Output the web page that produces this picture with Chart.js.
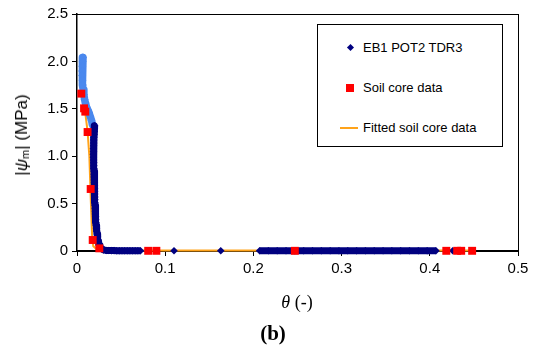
<!DOCTYPE html>
<html>
<head>
<meta charset="utf-8">
<script src="https://cdn.jsdelivr.net/npm/chart.js@4.4.0/dist/chart.umd.min.js"></script>
<style>
  body { margin: 0; background: #fff; }
  #wrap { position: relative; width: 533px; height: 353px; font-family: Arial, "Liberation Sans", sans-serif; }
  #c { position: absolute; left: 0; top: 0; }
  .legend { position: absolute; left: 317px; top: 24px; width: 184px; height: 121px; border: 1px solid #000; background: #fff; }
  .item { position: absolute; left: 0; height: 16px; font-size: 13px; line-height: 16px; color: #000; white-space: nowrap; }
  .item span.txt { position: absolute; left: 45px; top: 0; }
  .dia { position: absolute; left: 30px; top: 5px; width: 5px; height: 5px; background: #000080; transform: rotate(45deg); }
  .sq { position: absolute; left: 28px; top: 4px; width: 8px; height: 8px; background: #ff0000; }
  .ln { position: absolute; left: 22px; top: 7px; width: 18px; height: 2px; background: #ffa31a; }
  #ytitle { position: absolute; left: 22px; top: 135px; transform: translate(-50%, -50%) rotate(-90deg); font-size: 17px; white-space: nowrap; color: #000; }
  #ytitle sub { font-size: 11px; vertical-align: -2px; }
  #xtitle { position: absolute; left: 297px; top: 302px; transform: translate(-50%, -50%); font-family: "Liberation Serif", "Times New Roman", serif; font-size: 18px; white-space: nowrap; color: #000; }
  #cap { position: absolute; left: 273px; top: 333px; transform: translate(-50%, -50%); font-family: "Liberation Serif", "Times New Roman", serif; font-weight: bold; font-size: 21px; color: #000; }
</style>
</head>
<body>
<div id="wrap">
  <canvas id="c" width="533" height="353"></canvas>
  <div class="legend">
    <div class="item" style="top:15px"><div class="dia"></div><span class="txt">EB1 POT2 TDR3</span></div>
    <div class="item" style="top:55px"><div class="sq"></div><span class="txt">Soil core data</span></div>
    <div class="item" style="top:95px"><div class="ln"></div><span class="txt">Fitted soil core data</span></div>
  </div>
  <div id="ytitle">|<i>ψ</i><sub>m</sub>| (MPa)</div>
  <div id="xtitle"><i>θ</i> (-)</div>
  <div id="cap">(b)</div>
</div>
<script>
// axis ticks
const xTicks = [0, 0.1, 0.2, 0.3, 0.4, 0.5];
const yTicks = [0, 0.5, 1, 1.5, 2, 2.5];

// EB1 POT2 TDR3 - drying curve down to the flat part (theta, |psi_m|)
const ebThetaSteep = [0.0200, 0.0198, 0.0196, 0.0193, 0.0192, 0.0190, 0.0189, 0.0188, 0.0186, 0.0187,
  0.0185, 0.0186, 0.0188, 0.0190, 0.0191, 0.0192, 0.0193, 0.0194, 0.0195, 0.0196,
  0.0197, 0.0198, 0.0199, 0.0200, 0.0201, 0.0202, 0.0203, 0.0204, 0.0205, 0.0206,
  0.0208, 0.0209, 0.0211, 0.0213, 0.0215, 0.0218, 0.0221, 0.0224, 0.0228, 0.0232,
  0.0236, 0.0240, 0.0245, 0.0252, 0.0260, 0.0270, 0.0280, 0.0290, 0.0300,
  0.033, 0.036, 0.039, 0.042, 0.045, 0.048, 0.051, 0.054, 0.057, 0.060, 0.063, 0.066, 0.069, 0.072];
const ebPsiSteep = [1.32, 1.29, 1.26, 1.23, 1.20, 1.17, 1.14, 1.11, 1.08, 1.05,
  1.02, 0.99, 0.96, 0.93, 0.90, 0.87, 0.84, 0.81, 0.78, 0.75,
  0.72, 0.69, 0.66, 0.63, 0.60, 0.57, 0.54, 0.51, 0.48, 0.45,
  0.42, 0.39, 0.36, 0.33, 0.30, 0.27, 0.24, 0.21, 0.18, 0.15,
  0.12, 0.10, 0.08, 0.06, 0.045, 0.035, 0.025, 0.018, 0.012,
  0.006, 0.005, 0.004, 0.004, 0.003, 0.003, 0.003, 0.003, 0.002, 0.002, 0.002, 0.002, 0.002, 0.002];

// EB1 POT2 TDR3 - isolated readings
const ebThetaSingle = [0.110, 0.163];
const ebPsiSingle = [0.002, 0.002];

// EB1 POT2 TDR3 - dense wet readings
const ebThetaBand = [0.207, 0.217, 0.227, 0.237, 0.247, 0.257, 0.267, 0.277, 0.287, 0.297,
  0.307, 0.317, 0.327, 0.337, 0.347, 0.357, 0.367, 0.377, 0.387, 0.397, 0.407];
const ebPsiBand = [0.002, 0.002, 0.002, 0.002, 0.002, 0.002, 0.002, 0.002, 0.002, 0.002,
  0.002, 0.002, 0.002, 0.002, 0.002, 0.002, 0.002, 0.002, 0.002, 0.002, 0.002];

const ebThetaLast = [0.426];
const ebPsiLast = [0.002];

// dry-end readings shown in lighter blue
const dryTheta = [0.0068, 0.0064, 0.0060, 0.0058, 0.0059, 0.0062, 0.0066, 0.0071, 0.0078, 0.0086,
  0.0096, 0.0108, 0.0122, 0.0136, 0.0150, 0.0164, 0.0176];
const dryPsi = [2.04, 2.00, 1.95, 1.90, 1.85, 1.80, 1.75, 1.70, 1.65, 1.60,
  1.56, 1.52, 1.49, 1.46, 1.42, 1.38, 1.33];

// soil core data
const coreTheta = [0.0049, 0.0080, 0.0094, 0.0120, 0.0155, 0.0178, 0.0253,
  0.0807, 0.0900, 0.2470, 0.4187, 0.4310, 0.4356, 0.4480];
const corePsi = [1.66, 1.505, 1.47, 1.255, 0.654, 0.116, 0.028,
  0.002, 0.002, 0.002, 0.002, 0.002, 0.002, 0.002];

// fitted soil core curve
const fitTheta = [0.0050, 0.0080, 0.0095, 0.0120, 0.0140, 0.0158, 0.0173, 0.0185, 0.0220, 0.0300, 0.1000, 0.2500, 0.4520];
const fitPsi = [1.66, 1.51, 1.45, 1.26, 1.00, 0.50, 0.12, 0.05, 0.02, 0.008, 0.005, 0.004, 0.004];

const toXY = (xs, ys) => xs.map((x, i) => ({ x, y: ys[i] }));
const gap = { x: null, y: null };

// the logger readings are so dense that they merge into a band: join each run with a thick stroke
const ebData = [].concat(
  toXY(ebThetaSteep, ebPsiSteep), [gap],
  toXY(ebThetaSingle, ebPsiSingle).flatMap(p => [p, gap]),
  toXY(ebThetaBand, ebPsiBand), [gap],
  toXY(ebThetaLast, ebPsiLast)
);

const axisFont = { family: 'Arial, "Liberation Sans", sans-serif', size: 15 };

// plain box round the plot area via empty top/right axes
const emptyAxis = (position) => ({
  type: 'linear',
  position,
  min: 0,
  max: 1,
  display: true,
  grid: { display: false, drawTicks: false },
  ticks: { display: false },
  border: { display: true, color: '#000', width: 1 },
  afterFit: (scale) => {
    if (position === 'top') scale.height = 0; else scale.width = 0;
  },
});

new Chart(document.getElementById('c').getContext('2d'), {
  type: 'scatter',
  data: {
    datasets: [
      {
        label: 'Soil core data',
        data: toXY(coreTheta, corePsi),
        pointStyle: 'rect',
        pointRadius: 5.6,
        backgroundColor: '#ff0000',
        borderColor: '#ff0000',
        borderWidth: 0,
        clip: false,
      },
      {
        label: 'EB1 POT2 TDR3',
        data: ebData,
        showLine: true,
        spanGaps: false,
        pointStyle: 'rectRot',
        pointRadius: 3.8,
        pointBorderWidth: 0,
        backgroundColor: '#000080',
        borderColor: '#000080',
        borderWidth: 7,
        borderJoinStyle: 'round',
        borderCapStyle: 'butt',
        clip: false,
      },
      {
        label: 'dry',
        data: toXY(dryTheta, dryPsi),
        showLine: true,
        pointStyle: 'rectRot',
        pointRadius: 4,
        pointBorderWidth: 0,
        backgroundColor: '#4a88ee',
        borderColor: '#4a88ee',
        borderWidth: 7.5,
        borderJoinStyle: 'round',
        borderCapStyle: 'round',
        clip: false,
      },
      {
        label: 'Fitted soil core data',
        data: toXY(fitTheta, fitPsi),
        showLine: true,
        pointRadius: 0,
        borderColor: '#ffa31a',
        borderWidth: 2,
        tension: 0,
        clip: false,
      },
    ],
  },
  options: {
    responsive: false,
    animation: false,
    layout: { padding: { left: 0, top: 14, right: 15, bottom: 0 } },
    plugins: { legend: { display: false }, tooltip: { enabled: false } },
    scales: {
      x: {
        type: 'linear',
        min: 0,
        max: 0.5,
        afterBuildTicks: (scale) => { scale.ticks = xTicks.map(v => ({ value: v })); },
        ticks: { color: '#000', font: axisFont, padding: 4, maxRotation: 0 },
        grid: { display: true, drawOnChartArea: false, drawTicks: true, tickLength: 5, color: '#000' },
        border: { display: true, color: '#000', width: 2 },
        afterFit: (scale) => { scale.height = 102; },
      },
      y: {
        type: 'linear',
        min: 0,
        max: 2.5,
        afterBuildTicks: (scale) => { scale.ticks = yTicks.map(v => ({ value: v })); },
        ticks: { color: '#000', font: axisFont, padding: 4 },
        grid: { display: true, drawOnChartArea: false, drawTicks: true, tickLength: 5, color: '#000' },
        border: { display: true, color: '#000', width: 1.5 },
        afterFit: (scale) => { scale.width = 77; },
      },
      xTop: emptyAxis('top'),
      yRight: emptyAxis('right'),
    },
  },
});
</script>
</body>
</html>
